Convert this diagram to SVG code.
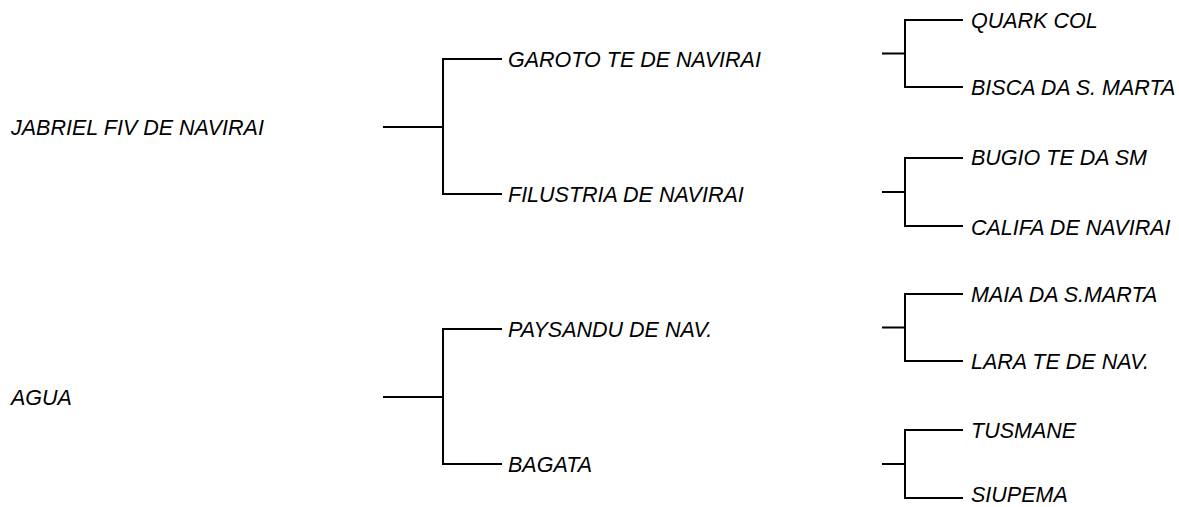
<svg xmlns="http://www.w3.org/2000/svg" width="1179" height="507" viewBox="0 0 1179 507">
<style>
.l{stroke:#000;stroke-width:2;fill:none;stroke-linecap:square}
text{font-family:"Liberation Sans",Arial,sans-serif;font-style:italic;font-size:21.5px;fill:#000}
</style>
<rect width="1179" height="507" fill="#fff"/>
<g id="connectors">
<path class="l" d="M384 127H443M443 59V194M443 59H501M443 194H501"/>
<path class="l" d="M384 397H443M443 329V464M443 329H501M443 464H501"/>
<path class="l" d="M883 53.5H905M905 20V87M905 20H962M905 87H962"/>
<path class="l" d="M883 192H905M905 158V226M905 158H962M905 226H962"/>
<path class="l" d="M883 327.5H905M905 294V361M905 294H962M905 361H962"/>
<path class="l" d="M883 464H905M905 430V498M905 430H962M905 498H962"/>
</g>
<g id="n1"><text x="11" y="135">JABRIEL FIV DE NAVIRAI</text></g>
<g id="n2"><text x="11" y="405">AGUA</text></g>
<g id="n3"><text x="508" y="67">GAROTO TE DE NAVIRAI</text></g>
<g id="n4"><text x="508" y="202">FILUSTRIA DE NAVIRAI</text></g>
<g id="n5"><text x="508" y="337">PAYSANDU DE NAV.</text></g>
<g id="n6"><text x="508" y="472">BAGATA</text></g>
<g id="n7"><text x="971" y="28">QUARK COL</text></g>
<g id="n8"><text x="971" y="95">BISCA DA S. MARTA</text></g>
<g id="n9"><text x="971" y="165">BUGIO TE DA SM</text></g>
<g id="n10"><text x="971" y="235">CALIFA DE NAVIRAI</text></g>
<g id="n11"><text x="971" y="302">MAIA DA S.MARTA</text></g>
<g id="n12"><text x="971" y="369">LARA TE DE NAV.</text></g>
<g id="n13"><text x="971" y="438">TUSMANE</text></g>
<g id="n14"><text x="971" y="502">SIUPEMA</text></g>
</svg>
